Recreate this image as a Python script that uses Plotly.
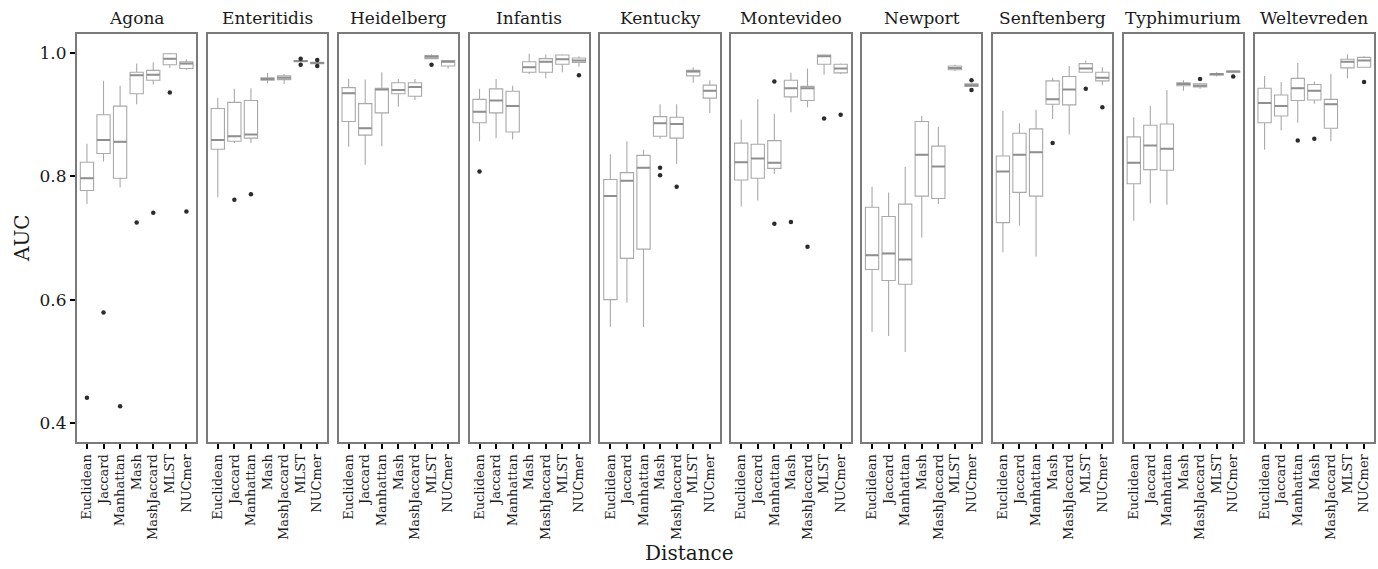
import plotly.graph_objects as go
from plotly.subplots import make_subplots

serotypes = ["Agona", "Enteritidis", "Heidelberg", "Infantis", "Kentucky",
             "Montevideo", "Newport", "Senftenberg", "Typhimurium", "Weltevreden"]
methods = ["Euclidean", "Jaccard", "Manhattan", "Mash", "MashJaccard", "MLST", "NUCmer"]

# per serotype, per method (order of `methods`)
lower = [
    [0.755, 0.824, 0.782, 0.917, 0.949, 0.976, 0.973],
    [0.766, 0.854, 0.854, 0.951, 0.950, 0.986, 0.983],
    [0.848, 0.819, 0.849, 0.913, 0.924, 0.991, 0.975],
    [0.857, 0.862, 0.860, 0.966, 0.959, 0.969, 0.978],
    [0.556, 0.595, 0.555, 0.861, 0.820, 0.952, 0.903],
    [0.751, 0.761, 0.804, 0.904, 0.912, 0.965, 0.966],
    [0.548, 0.541, 0.515, 0.701, 0.755, 0.971, 0.946],
    [0.677, 0.720, 0.670, 0.893, 0.868, 0.969, 0.948],
    [0.728, 0.756, 0.754, 0.939, 0.942, 0.962, 0.969],
    [0.843, 0.875, 0.887, 0.918, 0.857, 0.959, 0.977],
]
q1 = [
    [0.777, 0.837, 0.797, 0.934, 0.956, 0.981, 0.975],
    [0.844, 0.857, 0.862, 0.956, 0.957, 0.986, 0.983],
    [0.889, 0.867, 0.903, 0.934, 0.930, 0.991, 0.979],
    [0.887, 0.903, 0.872, 0.969, 0.969, 0.982, 0.985],
    [0.600, 0.667, 0.682, 0.865, 0.862, 0.963, 0.927],
    [0.794, 0.797, 0.813, 0.929, 0.923, 0.982, 0.968],
    [0.649, 0.631, 0.625, 0.768, 0.764, 0.973, 0.946],
    [0.725, 0.774, 0.768, 0.917, 0.916, 0.969, 0.955],
    [0.788, 0.811, 0.810, 0.947, 0.945, 0.964, 0.969],
    [0.887, 0.898, 0.923, 0.924, 0.878, 0.976, 0.977],
]
median = [
    [0.797, 0.859, 0.856, 0.964, 0.965, 0.991, 0.983],
    [0.859, 0.865, 0.868, 0.958, 0.960, 0.987, 0.984],
    [0.935, 0.878, 0.941, 0.940, 0.945, 0.994, 0.986],
    [0.905, 0.923, 0.914, 0.977, 0.986, 0.990, 0.988],
    [0.768, 0.793, 0.814, 0.886, 0.885, 0.970, 0.939],
    [0.823, 0.829, 0.822, 0.943, 0.943, 0.995, 0.975],
    [0.672, 0.675, 0.665, 0.835, 0.816, 0.976, 0.948],
    [0.808, 0.835, 0.839, 0.925, 0.941, 0.975, 0.960],
    [0.822, 0.850, 0.845, 0.950, 0.947, 0.966, 0.970],
    [0.919, 0.914, 0.943, 0.939, 0.917, 0.986, 0.988],
]
q3 = [
    [0.823, 0.900, 0.914, 0.969, 0.972, 0.999, 0.986],
    [0.910, 0.920, 0.923, 0.960, 0.963, 0.988, 0.985],
    [0.944, 0.918, 0.943, 0.952, 0.952, 0.996, 0.988],
    [0.925, 0.942, 0.938, 0.986, 0.991, 0.997, 0.992],
    [0.795, 0.806, 0.834, 0.897, 0.896, 0.972, 0.948],
    [0.854, 0.852, 0.858, 0.956, 0.946, 0.997, 0.982],
    [0.750, 0.735, 0.755, 0.889, 0.849, 0.979, 0.950],
    [0.833, 0.870, 0.877, 0.955, 0.962, 0.983, 0.969],
    [0.864, 0.883, 0.885, 0.952, 0.950, 0.967, 0.971],
    [0.943, 0.932, 0.959, 0.949, 0.925, 0.990, 0.993],
]
upper = [
    [0.853, 0.955, 0.947, 0.983, 0.985, 1.000, 0.990],
    [0.927, 0.942, 0.943, 0.968, 0.966, 0.988, 0.985],
    [0.958, 0.957, 0.969, 0.958, 0.958, 0.998, 0.989],
    [0.942, 0.958, 0.947, 0.999, 0.998, 0.998, 0.995],
    [0.836, 0.857, 0.843, 0.917, 0.917, 0.977, 0.956],
    [0.892, 0.925, 0.901, 0.968, 0.975, 0.998, 0.983],
    [0.783, 0.774, 0.815, 0.898, 0.880, 0.981, 0.950],
    [0.906, 0.886, 0.908, 0.960, 0.979, 0.988, 0.977],
    [0.896, 0.914, 0.940, 0.956, 0.951, 0.969, 0.972],
    [0.963, 0.953, 0.984, 0.954, 0.966, 0.998, 0.995],
]

outlier_serotype = ["Agona", "Agona", "Agona", "Agona", "Agona", "Agona", "Agona",
                    "Enteritidis", "Enteritidis", "Enteritidis", "Enteritidis",
                    "Enteritidis", "Enteritidis",
                    "Heidelberg", "Infantis", "Infantis",
                    "Kentucky", "Kentucky", "Kentucky",
                    "Montevideo", "Montevideo", "Montevideo", "Montevideo",
                    "Montevideo", "Montevideo",
                    "Newport", "Newport",
                    "Senftenberg", "Senftenberg", "Senftenberg",
                    "Typhimurium", "Typhimurium",
                    "Weltevreden", "Weltevreden", "Weltevreden"]
outlier_method = ["Euclidean", "Jaccard", "Manhattan", "Mash", "MashJaccard", "MLST", "NUCmer",
                  "Jaccard", "Manhattan", "MLST", "MLST", "NUCmer", "NUCmer",
                  "MLST", "Euclidean", "NUCmer",
                  "Mash", "Mash", "MashJaccard",
                  "Manhattan", "Manhattan", "Mash", "MashJaccard", "MLST", "NUCmer",
                  "NUCmer", "NUCmer",
                  "Mash", "MLST", "NUCmer",
                  "MashJaccard", "NUCmer",
                  "Manhattan", "Mash", "NUCmer"]
outlier_value = [0.441, 0.579, 0.427, 0.725, 0.741, 0.936, 0.743,
                 0.762, 0.771, 0.991, 0.981, 0.989, 0.979,
                 0.981, 0.808, 0.964,
                 0.814, 0.802, 0.783,
                 0.954, 0.723, 0.726, 0.686, 0.894, 0.900,
                 0.956, 0.940,
                 0.854, 0.942, 0.912,
                 0.958, 0.962,
                 0.858, 0.861, 0.953]

FONT = "DejaVu Serif"
BOX_W = 0.8
n = len(serotypes)

fig = make_subplots(rows=1, cols=n, shared_yaxes=True, horizontal_spacing=0.00887)

xs = list(range(len(methods)))
for k, s in enumerate(serotypes):
    col = k + 1
    fig.add_trace(go.Box(
        x=xs, q1=q1[k], median=median[k], q3=q3[k],
        lowerfence=lower[k], upperfence=upper[k],
        width=BOX_W, whiskerwidth=0, boxpoints=False,
        fillcolor="white", line=dict(color="#a9a9a9", width=1.1),
        showlegend=False, hoverinfo="skip"), row=1, col=col)
    mx, my = [], []
    for i, m in enumerate(median[k]):
        mx += [i - BOX_W / 2, i + BOX_W / 2, None]
        my += [m, m, None]
    fig.add_trace(go.Scatter(x=mx, y=my, mode="lines",
                             line=dict(color="#8f8f8f", width=2),
                             showlegend=False, hoverinfo="skip"), row=1, col=col)
    ox = [methods.index(m) for ss, m in zip(outlier_serotype, outlier_method) if ss == s]
    oy = [v for ss, v in zip(outlier_serotype, outlier_value) if ss == s]
    fig.add_trace(go.Scatter(x=ox, y=oy, mode="markers",
                             marker=dict(color="#2b2b2b", size=4.5),
                             showlegend=False, hoverinfo="skip"), row=1, col=col)
    fig.update_xaxes(range=[-0.6, 6.6], tickmode="array", tickvals=xs, ticktext=methods,
                     tickangle=-90, ticks="outside", ticklen=5, tickwidth=1.5,
                     tickcolor="black", showline=True, linecolor="#7a7a7a", linewidth=2,
                     mirror=True, showgrid=False, zeroline=False, automargin=False,
                     tickfont=dict(family=FONT, size=13, color="#1a1a1a"),
                     row=1, col=col)
    fig.update_yaxes(range=[0.369, 1.031], showline=True, linecolor="#7a7a7a", linewidth=2,
                     mirror=True, showgrid=False, zeroline=False, automargin=False,
                     ticks=("outside" if col == 1 else ""), ticklen=5, tickwidth=1.5,
                     tickcolor="black", tickvals=[0.4, 0.6, 0.8, 1.0],
                     ticktext=["0.4", "0.6", "0.8", "1.0"],
                     tickfont=dict(family=FONT, size=17, color="#1a1a1a"),
                     row=1, col=col)
    dom = fig.layout["xaxis" + ("" if col == 1 else str(col))].domain
    fig.add_annotation(x=(dom[0] + dom[1]) / 2, y=1, xref="paper", yref="paper",
                       xanchor="center", yanchor="bottom", yshift=4, showarrow=False,
                       text=s, font=dict(family=FONT, size=17, color="#1a1a1a"))

fig.add_annotation(x=0.4726, y=-0.272, xref="paper", yref="paper", showarrow=False,
                   text="Distance", xanchor="center", yanchor="middle",
                   font=dict(family=FONT, size=20, color="#1a1a1a"))
fig.add_annotation(x=-0.0424, y=0.5, xref="paper", yref="paper", showarrow=False,
                   text="AUC", textangle=-90, xanchor="center", yanchor="middle",
                   font=dict(family=FONT, size=20, color="#1a1a1a"))

fig.update_layout(width=1378, height=569, margin=dict(l=77, r=4, t=34, b=127),
                  paper_bgcolor="white", plot_bgcolor="white",
                  font=dict(family=FONT))

fig.write_html("out.html", config={"displayModeBar": False},
               post_script="document.body.style.margin='0';document.body.style.padding='0';")
